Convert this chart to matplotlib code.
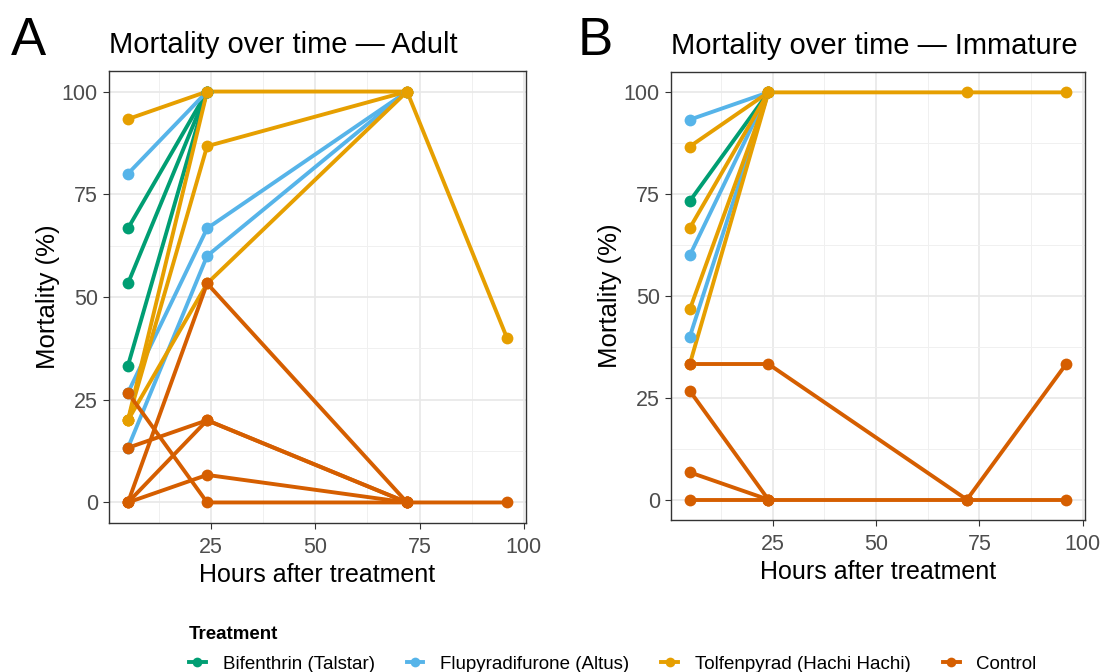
import numpy as np
import matplotlib.pyplot as plt
from matplotlib.lines import Line2D

plt.rcParams['font.family'] = ['Liberation Sans', 'DejaVu Sans']

# sampling times (h)
hours = [5, 24, 72, 96]

treatments = ["Bifenthrin (Talstar)", "Flupyradifurone (Altus)",
              "Tolfenpyrad (Hachi Hachi)", "Control"]
colors = ["#009E73", "#56B4E9", "#E69F00", "#D55E00"]

# mortality (%) per replicate, aligned with `hours`; None = not recorded
adult_bifenthrin = [[66.7, 100, None, None], [53.3, 100, None, None], [33.3, 100, None, None]]
adult_flupyradifurone = [[80.0, 100, None, None], [26.7, 66.7, 100, None], [13.3, 60.0, 100, None]]
adult_tolfenpyrad = [[93.3, 100, 100, 40.0], [20.0, 86.7, 100, None],
                     [20.0, 53.3, 100, None], [20.0, 100, None, None]]
adult_control = [[13.3, 20.0, 0, None], [0, 53.3, 0, None], [0, 20.0, 0, None],
                 [0, 6.7, 0, None], [26.7, 0, 0, 0]]

imm_bifenthrin = [[73.3, 100, None, None]]
imm_flupyradifurone = [[93.3, 100, None, None], [60.0, 100, None, None], [40.0, 100, None, None]]
imm_tolfenpyrad = [[86.7, 100, 100, 100], [66.7, 100, None, None],
                   [46.7, 100, None, None], [33.3, 100, None, None]]
imm_control = [[33.3, 33.3, 0, 33.3], [26.7, 0, None, None],
               [6.7, 0, None, None], [0, 0, 0, 0]]

adult = [adult_bifenthrin, adult_flupyradifurone, adult_tolfenpyrad, adult_control]
immature = [imm_bifenthrin, imm_flupyradifurone, imm_tolfenpyrad, imm_control]

LW = 2.8
MS = 8.5


def pts(rep):
    xs = [h for h, v in zip(hours, rep) if v is not None]
    ys = [v for v in rep if v is not None]
    return xs, ys


def draw_panel(ax, groups, title):
    # lines first, then points (like geom_line + geom_point)
    for reps, c in zip(groups, colors):
        for rep in reps:
            xs, ys = pts(rep)
            ax.plot(xs, ys, color=c, lw=LW, solid_capstyle='butt', zorder=2)
    for reps, c in zip(groups, colors):
        for rep in reps:
            xs, ys = pts(rep)
            ax.plot(xs, ys, 'o', color=c, ms=MS, mec='none', zorder=3)

    ax.set_xlim(0.45, 100.55)
    ax.set_ylim(-5, 105)
    ax.set_xticks([25, 50, 75, 100])
    ax.set_xticks([12.5, 37.5, 62.5, 87.5], minor=True)
    ax.set_yticks([0, 25, 50, 75, 100])
    ax.set_yticks([12.5, 37.5, 62.5, 87.5], minor=True)
    ax.grid(which='major', color='#E8E8E8', lw=1.2, zorder=0)
    ax.grid(which='minor', color='#F0F0F0', lw=0.7, zorder=0)
    ax.set_axisbelow(True)
    for s in ax.spines.values():
        s.set_color('#333333')
        s.set_linewidth(1.0)
    ax.tick_params(which='major', length=4, color='#333333', labelsize=15.5,
                   labelcolor='#4D4D4D')
    ax.tick_params(axis='x', pad=6)
    ax.tick_params(axis='y', pad=4)
    ax.tick_params(which='minor', length=0)
    ax.set_xlabel("Hours after treatment", fontsize=18, labelpad=4)
    ax.set_ylabel("Mortality (%)", fontsize=18.5, labelpad=1)
    ax.set_title(title, fontsize=21, loc='left', pad=13, x=0.0)


fig = plt.figure(figsize=(11.02, 6.72), dpi=100)
axA = fig.add_axes([109 / 1102, 1 - 523 / 672, 417 / 1102, 452 / 672])
axB = fig.add_axes([671 / 1102, 1 - 520 / 672, 414 / 1102, 448 / 672])

draw_panel(axA, adult, "Mortality over time \u2014 Adult")
draw_panel(axB, immature, "Mortality over time \u2014 Immature")

fig.text(11 / 1102, 1 - 55 / 672, "A", fontsize=38)
fig.text(578 / 1102, 1 - 55 / 672, "B", fontsize=38)

handles = [Line2D([], [], color=c, lw=LW, marker='o', ms=7, mec='none')
           for c in colors]
leg = fig.legend(handles, treatments, loc='lower left', ncol=4,
                 bbox_to_anchor=(172 / 1102, -0.026), frameon=False,
                 title="Treatment", title_fontproperties={'weight': 'bold', 'size': 13.5},
                 fontsize=13.5, handlelength=0.9, handletextpad=0.9,
                 columnspacing=1.7, alignment='left', labelspacing=0.3)
leg._legend_box.sep = 9

fig.savefig("out.png", dpi=100)
